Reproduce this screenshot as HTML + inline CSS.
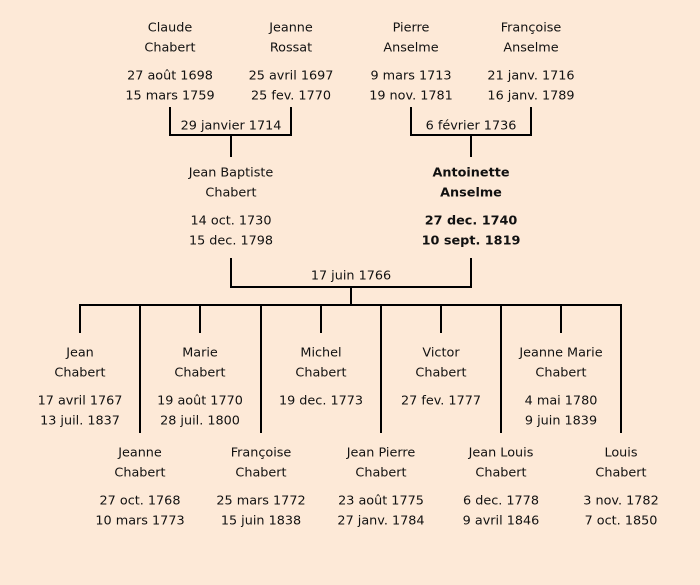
<!DOCTYPE html>
<html><head><meta charset="utf-8"><style>
html,body{margin:0;padding:0;background:#fde9d7;}
svg{display:block}
text{font-family:"Comic Sans MS","DejaVu Sans","Liberation Sans",sans-serif;font-size:12.8px;fill:#111;text-anchor:middle;dominant-baseline:middle}
.b{font-weight:bold}
</style></head><body>
<svg width="700" height="585" viewBox="0 0 700 585">
<rect width="700" height="585" fill="#fde9d7"/>
<g stroke="#000" stroke-width="2" fill="none">
<path d="M170,107V135H291V107M231,135V157"/>
<path d="M411,107V135H531V107M471,135V157"/>
<path d="M231,258V287H471V258M351,287V305"/>
<path d="M80,333V305H621V433"/>
<path d="M140,305V433M261,305V433M381,305V433M501,305V433"/>
<path d="M200,305V333M321,305V333M441,305V333M561,305V333"/>
</g>
<g transform="translate(0,1)">
<text x="170" y="27">Claude</text><text x="170" y="47">Chabert</text><text x="170" y="75">27 août 1698</text><text x="170" y="95">15 mars 1759</text>
<text x="291" y="27">Jeanne</text><text x="291" y="47">Rossat</text><text x="291" y="75">25 avril 1697</text><text x="291" y="95">25 fev. 1770</text>
<text x="411" y="27">Pierre</text><text x="411" y="47">Anselme</text><text x="411" y="75">9 mars 1713</text><text x="411" y="95">19 nov. 1781</text>
<text x="531" y="27">Françoise</text><text x="531" y="47">Anselme</text><text x="531" y="75">21 janv. 1716</text><text x="531" y="95">16 janv. 1789</text>
<text x="231" y="125">29 janvier 1714</text>
<text x="471" y="125">6 février 1736</text>
<text x="231" y="172">Jean Baptiste</text><text x="231" y="192">Chabert</text><text x="231" y="220">14 oct. 1730</text><text x="231" y="240">15 dec. 1798</text>
<text class="b" x="471" y="172">Antoinette</text><text class="b" x="471" y="192">Anselme</text><text class="b" x="471" y="220">27 dec. 1740</text><text class="b" x="471" y="240">10 sept. 1819</text>
<text x="351" y="275">17 juin 1766</text>
<text x="80" y="352">Jean</text><text x="80" y="372">Chabert</text><text x="80" y="400">17 avril 1767</text><text x="80" y="420">13 juil. 1837</text>
<text x="200" y="352">Marie</text><text x="200" y="372">Chabert</text><text x="200" y="400">19 août 1770</text><text x="200" y="420">28 juil. 1800</text>
<text x="321" y="352">Michel</text><text x="321" y="372">Chabert</text><text x="321" y="400">19 dec. 1773</text>
<text x="441" y="352">Victor</text><text x="441" y="372">Chabert</text><text x="441" y="400">27 fev. 1777</text>
<text x="561" y="352">Jeanne Marie</text><text x="561" y="372">Chabert</text><text x="561" y="400">4 mai 1780</text><text x="561" y="420">9 juin 1839</text>
<text x="140" y="452">Jeanne</text><text x="140" y="472">Chabert</text><text x="140" y="500">27 oct. 1768</text><text x="140" y="520">10 mars 1773</text>
<text x="261" y="452">Françoise</text><text x="261" y="472">Chabert</text><text x="261" y="500">25 mars 1772</text><text x="261" y="520">15 juin 1838</text>
<text x="381" y="452">Jean Pierre</text><text x="381" y="472">Chabert</text><text x="381" y="500">23 août 1775</text><text x="381" y="520">27 janv. 1784</text>
<text x="501" y="452">Jean Louis</text><text x="501" y="472">Chabert</text><text x="501" y="500">6 dec. 1778</text><text x="501" y="520">9 avril 1846</text>
<text x="621" y="452">Louis</text><text x="621" y="472">Chabert</text><text x="621" y="500">3 nov. 1782</text><text x="621" y="520">7 oct. 1850</text>
</g>
</svg>
</body></html>
